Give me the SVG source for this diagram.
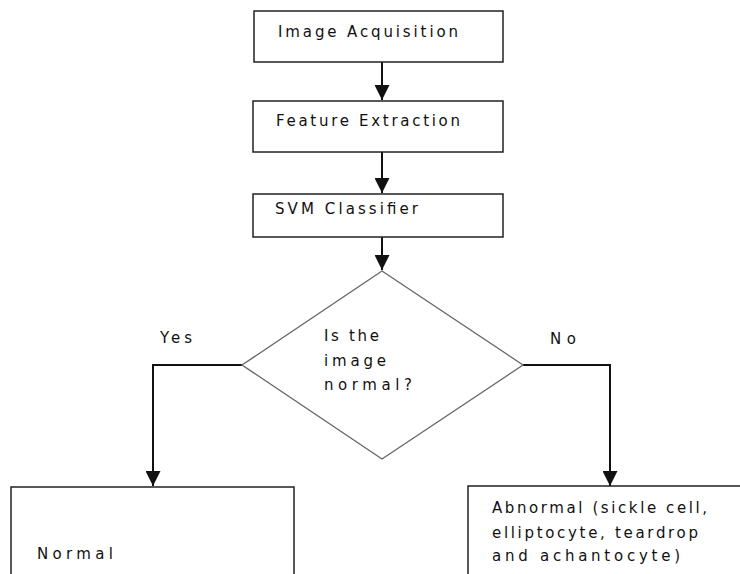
<svg xmlns="http://www.w3.org/2000/svg" width="740" height="574" viewBox="0 0 740 574">
<style>
.box{fill:#fff;stroke:#222;stroke-width:1.5}
.dia{fill:#fff;stroke:#666;stroke-width:1.3}
.ln{fill:none;stroke:#111;stroke-width:2}
text{font-family:"DejaVu Sans","Liberation Sans",sans-serif;font-size:15px;fill:#111}
</style>
<defs>
<marker id="ah" viewBox="0 0 10 10" refX="10" refY="5" markerWidth="16" markerHeight="15" markerUnits="userSpaceOnUse" orient="auto">
<path d="M0,0 L10,5 L0,10 z" fill="#111"/>
</marker>
</defs>
<rect width="740" height="574" fill="#fff"/>
<g id="connectors">
<line class="ln" x1="382" y1="62" x2="382" y2="100" marker-end="url(#ah)"/>
<line class="ln" x1="382" y1="152" x2="382" y2="193" marker-end="url(#ah)"/>
<line class="ln" x1="382" y1="237" x2="382" y2="270" marker-end="url(#ah)"/>
<polyline class="ln" points="242,365 153,365 153,486" marker-end="url(#ah)"/>
<polyline class="ln" points="523,365 610,365 610,486" marker-end="url(#ah)"/>
<text x="160" y="343" textLength="32" lengthAdjust="spacing">Yes</text>
<text x="550" y="344" textLength="26" lengthAdjust="spacing">No</text>
</g>
<g id="n1">
<rect class="box" x="254" y="11" width="249" height="51"/>
<text x="278" y="37" textLength="180" lengthAdjust="spacing">Image Acquisition</text>
</g>
<g id="n2">
<rect class="box" x="253" y="101" width="250" height="51"/>
<text x="276" y="126" textLength="184" lengthAdjust="spacing">Feature Extraction</text>
</g>
<g id="n3">
<rect class="box" x="253" y="194" width="250" height="43"/>
<text x="275" y="214" textLength="143" lengthAdjust="spacing">SVM Classifier</text>
</g>
<g id="decision">
<polygon class="dia" points="382,271 523,365 382,459 242,365"/>
<text x="324" y="341" textLength="55" lengthAdjust="spacing">Is the</text>
<text x="324" y="366" textLength="62" lengthAdjust="spacing">image</text>
<text x="324" y="390" textLength="88" lengthAdjust="spacing">normal?</text>
</g>
<g id="normal">
<rect class="box" x="11" y="487" width="283" height="100"/>
<text x="37" y="559" textLength="76" lengthAdjust="spacing">Normal</text>
</g>
<g id="abnormal">
<rect class="box" x="468" y="486" width="290" height="100"/>
<text x="492" y="513" textLength="215" lengthAdjust="spacing">Abnormal (sickle cell,</text>
<text x="492" y="538" textLength="206" lengthAdjust="spacing">elliptocyte, teardrop</text>
<text x="492" y="561" textLength="188" lengthAdjust="spacing">and achantocyte)</text>
</g>
</svg>
